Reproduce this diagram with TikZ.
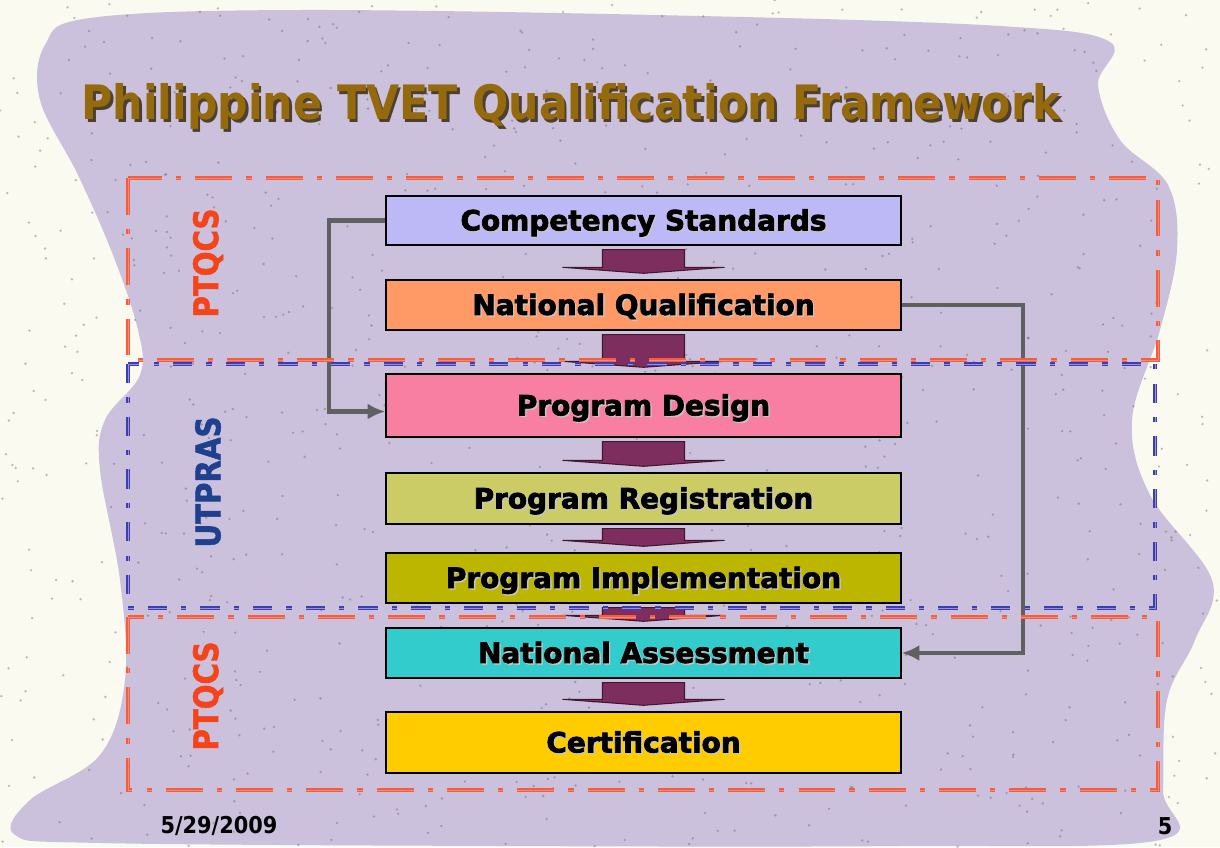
\documentclass[tikz,border=0pt]{standalone}
\usepackage{fontspec}
\setmainfont{DejaVu Sans}
\newfontfamily\titlefont[FakeStretch=0.9]{DejaVu Sans}
\newfontfamily\stagefont[FakeBold=2.5]{DejaVu Sans}
\newfontfamily\sidefont[FakeStretch=0.86,FakeBold=1.5]{DejaVu Sans}
\usepackage{tikz}
\usepackage{xcolor}
\usetikzlibrary{calc,arrows.meta}

\definecolor{blob}{HTML}{CBC1DC}
\definecolor{paper}{HTML}{FBFAF0}
\definecolor{framered}{HTML}{FF5A36}
\definecolor{frameblue}{HTML}{3C3CB4}
\definecolor{titlebrown}{HTML}{946A0C}
\definecolor{titleshadow}{HTML}{4E4030}
\definecolor{arrowplum}{HTML}{7E2E5E}
\definecolor{linkgray}{HTML}{606060}
\definecolor{csfill}{HTML}{BDB9F7}
\definecolor{nqfill}{HTML}{FF9966}
\definecolor{pdfill}{HTML}{F87FA2}
\definecolor{prfill}{HTML}{CCCC66}
\definecolor{pifill}{HTML}{BDB600}
\definecolor{nafill}{HTML}{33CCCC}
\definecolor{certfill}{HTML}{FFCC00}
\definecolor{ptqcsred}{HTML}{F5441A}
\definecolor{utprasblue}{HTML}{1F3F8F}

\newcommand{\shadowed}[3]{\makebox[0pt][l]{\hspace{#1}\raisebox{-#1}{\textcolor{#2}{#3}}}#3}
\newcommand{\stagetext}[1]{\shadowed{0.8pt}{white!55!gray}{#1}}

\begin{document}
\begin{tikzpicture}[x=0.2mm, y=-0.2mm,
    stage/.style={draw=black, line width=0.8pt, minimum width=103mm, inner sep=0pt,
        text height=11.3pt, text depth=0pt, font=\stagefont\fontsize{15.9}{18}\selectfont\bfseries},
    blockarrow/.style={fill=arrowplum, draw=arrowplum!50!black, line width=0.6pt},
    feedback/.style={draw=linkgray, line width=2.3pt, -{Latex[length=10pt,width=9pt]}},
    ptqcsframe/.style={draw=framered, line width=0.9pt, double=framered!45!blob, double distance=0.5pt,
        dash pattern=on 21pt off 8pt on 3pt off 8pt},
    utprasframe/.style={draw=frameblue, line width=0.9pt, double=frameblue!35!blob, double distance=0.5pt,
        dash pattern=on 11pt off 8pt on 3pt off 8pt},
    sidelabel/.style={rotate=90, font=\sidefont\fontsize{19.3}{22}\selectfont\bfseries},
    footer/.style={font=\titlefont\fontsize{13.2}{15}\selectfont\bfseries}]

    % Page and background shape
    \useasboundingbox (0,0) rectangle (1220,847);
    \fill[paper] (0,0) rectangle (1220,847);
    \fill[blob] plot[smooth cycle, tension=0.6] coordinates {
        (40,100) (45,45) (90,18) (300,10) (700,16) (1000,26) (1110,42) (1098,85)
        (1120,140) (1168,185) (1177,250) (1160,330) (1132,420) (1150,495) (1212,580)
        (1195,640) (1167,700) (1163,790) (1160,840) (900,846) (500,846) (100,843)
        (15,835) (30,800) (100,755) (125,680) (120,580) (100,470) (105,420)
        (140,375) (138,330) (113,255) (78,175)};

    % Speckles
    \pgfmathsetseed{7}
    \foreach \i in {1,...,900} {
        \fill[gray!70!black, opacity=0.4] (rnd*1220, rnd*847) circle (1.3);
    }

    % Title
    \node[anchor=base, text=titlebrown, font=\titlefont\fontsize{27}{30}\selectfont\bfseries] (title) at (571,120)
        {\shadowed{1.5pt}{titleshadow}{Philippine TVET Qualification Framework}};

    % Stages
    \node[stage, fill=csfill, minimum height=9.8mm] (cs) at (643.5,220.5) {\stagetext{Competency Standards}};
    \node[stage, fill=nqfill, minimum height=10mm] (nq) at (643.5,305) {\stagetext{National Qualification}};
    \node[stage, fill=pdfill, minimum height=12.6mm] (pd) at (643.5,405.5) {\stagetext{Program Design}};
    \node[stage, fill=prfill, minimum height=10.2mm] (pr) at (643.5,498.5) {\stagetext{Program Registration}};
    \node[stage, fill=pifill, minimum height=10mm] (pi) at (643.5,578) {\stagetext{Program Implementation}};
    \node[stage, fill=nafill, minimum height=10mm] (na) at (643.5,653) {\stagetext{National Assessment}};
    \node[stage, fill=certfill, minimum height=12.2mm] (cert) at (643.5,742.5) {\stagetext{Certification}};

    % Block arrows between stages
    \foreach \a/\b in {cs/nq, nq/pd, pd/pr, pr/pi, pi/na, na/cert} {
        \filldraw[blockarrow] ($(\a.south)+(-41,4)$) -- ($(\a.south)+(41,4)$) -- ($(\b.north)+(41,-12)$)
            -- ($(\b.north)+(81,-12)$) -- ($(\b.north)+(0,-6)$) -- ($(\b.north)+(-81,-12)$)
            -- ($(\b.north)+(-41,-12)$) -- cycle;
    }

    % Feedback links
    \draw[feedback] (cs.west) -- ++(-56,0) |- ($(pd.west)+(0,6)$);
    \draw[feedback] (nq.east) -- ++(121,0) |- (na.east);

    % Frames
    \draw[ptqcsframe] (128,178) rectangle (1158,360);
    \draw[utprasframe] (128,364) rectangle (1155,608);
    \draw[ptqcsframe] (128,617) rectangle (1158,790);

    % Side labels
    \node[sidelabel, text=ptqcsred] (ptqcstop) at (208,263) {PTQCS};
    \node[sidelabel, text=utprasblue] (utpras) at (208,482) {UTPRAS};
    \node[sidelabel, text=ptqcsred] (ptqcsbottom) at (208,696) {PTQCS};

    % Footer
    \node[footer] (date) at (219,826) {5/29/2009};
    \node[footer] (page) at (1165,826) {5};
\end{tikzpicture}
\end{document}
